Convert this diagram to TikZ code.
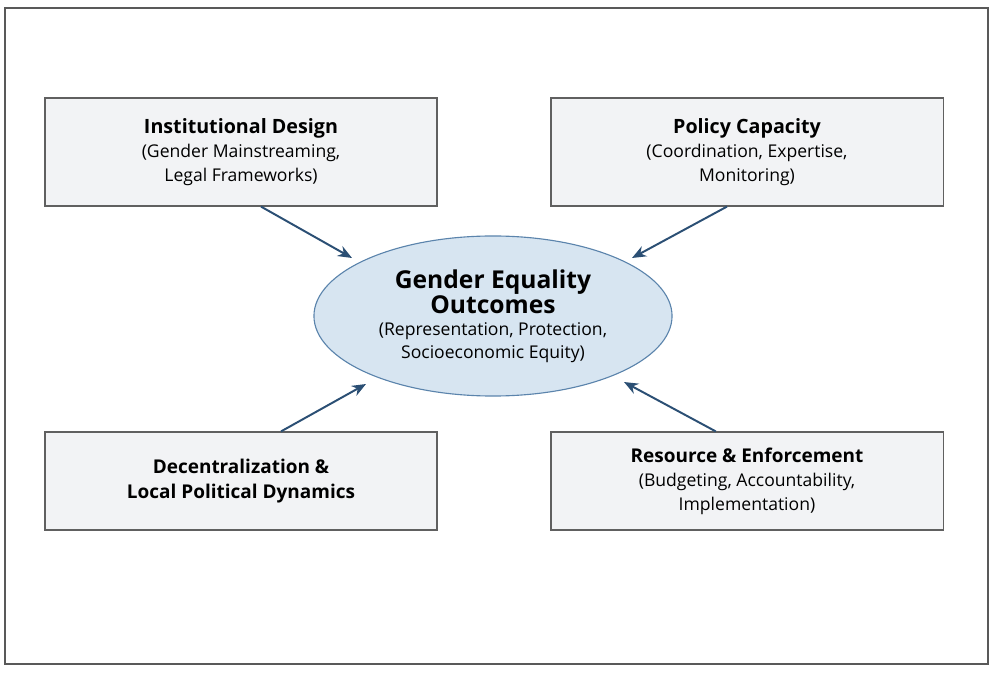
\documentclass[tikz,border=0pt]{standalone}
\usepackage{fontspec}
\setmainfont{Open Sans}
\usetikzlibrary{positioning,shapes.geometric,arrows.meta}
\definecolor{boxfill}{HTML}{F2F3F5}
\definecolor{ellfill}{HTML}{D7E5F1}
\definecolor{elldraw}{HTML}{5B84AC}
\definecolor{arrowblue}{HTML}{2B4F74}

\begin{document}
\begin{tikzpicture}[x=0.025cm, y=-0.025cm,
    factor/.style={draw=gray!75!black, thick, fill=boxfill, minimum width=9.8cm, minimum height=2.7cm, align=center, font=\fontsize{12.5}{17}\selectfont},
    arrow/.style={-{Stealth[length=10pt,width=8pt]}, line width=1.4pt, draw=arrowblue}
]

% Canvas and frame
\useasboundingbox (0,0) rectangle (1006,681);
\draw[gray!70!black, thick] (5,8) rectangle (988,664);

% Factor boxes
\node[factor] (inst) at (241,152) {\bfseries\fontsize{14}{18}\selectfont Institutional Design\\\mdseries\fontsize{12.5}{17}\selectfont(Gender Mainstreaming,\\Legal Frameworks)};
\node[factor] (pol) at (747,152) {\bfseries\fontsize{14}{18}\selectfont Policy Capacity\\\mdseries\fontsize{12.5}{17}\selectfont(Coordination, Expertise,\\Monitoring)};
\node[factor, minimum height=2.45cm, font=\bfseries\fontsize{13.5}{18}\selectfont] (dec) at (241,481) {Decentralization \&\\Local Political Dynamics};
\node[factor, minimum height=2.45cm] (res) at (747,481) {\bfseries\fontsize{13.5}{18}\selectfont Resource \& Enforcement\\\mdseries\fontsize{12.5}{17}\selectfont(Budgeting, Accountability,\\Implementation)};

% Central outcome
\node[ellipse, draw=elldraw, thick, fill=ellfill, minimum width=8.95cm, minimum height=4cm, inner sep=0pt, align=center, font=\fontsize{12.5}{16}\selectfont] (out) at (493,316)
    {\bfseries\fontsize{17.5}{21}\selectfont Gender Equality\\\bfseries\fontsize{17.5}{21}\selectfont Outcomes\\\mdseries\fontsize{12.5}{16}\selectfont(Representation, Protection,\\Socioeconomic Equity)};

% Arrows
\draw[arrow] ([xshift=0.5cm]inst.south) -- ([shift={(-141,-58)}]out.center);
\draw[arrow] ([xshift=-0.5cm]pol.south) -- ([shift={(139,-58)}]out.center);
\draw[arrow] ([xshift=1cm]dec.north) -- ([shift={(-127,68)}]out.center);
\draw[arrow] ([xshift=-0.78cm]res.north) -- ([shift={(131,66)}]out.center);

\end{tikzpicture}
\end{document}
